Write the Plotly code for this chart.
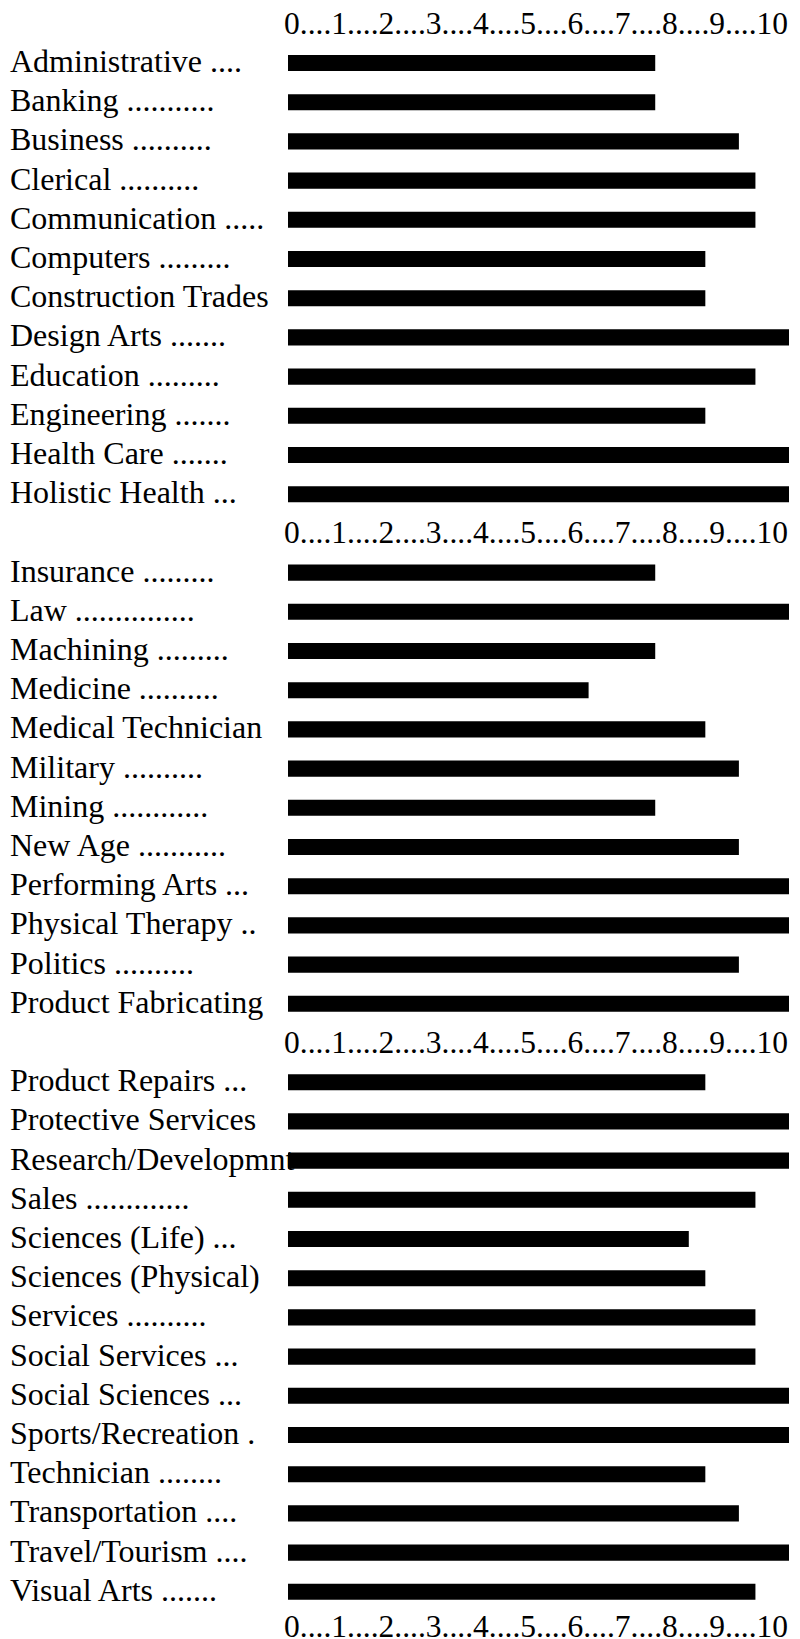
import plotly.graph_objects as go

# ---- data ----
section1_labels = ["Administrative ....", "Banking ...........", "Business ..........", "Clerical ..........",
                   "Communication .....", "Computers .........", "Construction Trades", "Design Arts .......",
                   "Education .........", "Engineering .......", "Health Care .......", "Holistic Health ..."]
section1_values = [7.33, 7.33, 9.0, 9.33, 9.33, 8.33, 8.33, 10, 9.33, 8.33, 10, 10]

section2_labels = ["Insurance .........", "Law ...............", "Machining .........", "Medicine ..........",
                   "Medical Technician", "Military ..........", "Mining ............", "New Age ...........",
                   "Performing Arts ...", "Physical Therapy ..", "Politics ..........", "Product Fabricating"]
section2_values = [7.33, 10, 7.33, 6.0, 8.33, 9.0, 7.33, 9.0, 10, 10, 9.0, 10]

section3_labels = ["Product Repairs ...", "Protective Services", "Research/Developmnt", "Sales .............",
                   "Sciences (Life) ...", "Sciences (Physical)", "Services ..........", "Social Services ...",
                   "Social Sciences ...", "Sports/Recreation .", "Technician ........", "Transportation ....",
                   "Travel/Tourism ....", "Visual Arts ......."]
section3_values = [8.33, 10, 10, 9.33, 8.0, 8.33, 9.33, 9.33, 10, 10, 8.33, 9.0, 10, 9.33]

scale_text = "0....1....2....3....4....5....6....7....8....9....10"
x_range = [0, 10]

# ---- layout constants (page body has an 8px margin) ----
OFF = 8
W, H = 800 - OFF, 1639 - OFF
ML, MR = 288 - OFF, 11
FONT = "Liberation Serif, Times New Roman, serif"
FSIZE = 32
SCALE_FSIZE = 31.5
PITCH = 39.2
FIRST_CENTER = 23.8 - OFF

sections = [(section1_labels, section1_values), (section2_labels, section2_values),
            (section3_labels, section3_values)]

ys, xs, labels, scale_rows = [], [], [], []
slot = 0
scale_rows.append(slot)
for labs, vals in sections:
    for lab, v in zip(labs, vals):
        slot += 1
        ys.append(slot)
        xs.append(v)
        labels.append(lab)
    slot += 1
    scale_rows.append(slot)

y0 = -FIRST_CENTER / PITCH
y1 = y0 + H / PITCH

fig = go.Figure(go.Bar(x=xs, y=ys, orientation="h", width=0.41,
                       marker=dict(color="black", line=dict(width=0)),
                       hoverinfo="skip"))

plot_w = W - ML - MR

annotations = []
for lab, yv in zip(labels, ys):
    annotations.append(dict(text=lab, xref="paper", yref="y", x=(8 - OFF - ML) / plot_w, y=yv,
                            xanchor="left", yanchor="middle", showarrow=False, yshift=2,
                            font=dict(family=FONT, size=FSIZE, color="black")))
last = len(scale_rows) - 1
for k, yv in enumerate(scale_rows):
    annotations.append(dict(text=scale_text, xref="paper", yref="y",
                            x=(535.5 - OFF - ML) / plot_w, y=yv,
                            xanchor="center", yanchor="middle", showarrow=False,
                            yshift=5 if k == last else (0 if k == 0 else 1),
                            font=dict(family=FONT, size=SCALE_FSIZE, color="black")))

fig.update_layout(
    width=W, height=H,
    margin=dict(l=ML, r=MR, t=0, b=0, pad=0),
    paper_bgcolor="white", plot_bgcolor="white",
    showlegend=False,
    xaxis=dict(range=x_range, visible=False, showgrid=False, zeroline=False),
    yaxis=dict(range=[y1, y0], visible=False, showgrid=False, zeroline=False),
    annotations=annotations,
)

fig.write_html("out.html")
